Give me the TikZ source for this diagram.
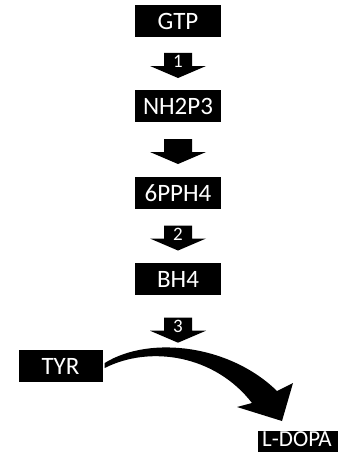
\documentclass[tikz,border=0pt]{standalone}
\usepackage{fontspec}
\setmainfont{Carlito}
\usetikzlibrary{calc}
\begin{document}
\begin{tikzpicture}[x=1pt,y=-1pt]
\tikzset{
  box/.style={fill=black, text=white, minimum width=86pt, minimum height=32pt,
    inner sep=0pt, font=\fontsize{25}{25}\selectfont},
  steplabel/.style={text=white, inner sep=0pt, font=\fontsize{19}{19}\selectfont},
  blockarrow/.style={fill=black}
}
\useasboundingbox (0,0) rectangle (338,452);

% metabolite boxes
\node[box] (gtp) at (178,21) {GTP};
\node[box] (nh)  at (178,106) {NH2P3};
\node[box] (pp)  at (178,193) {6PPH4};
\node[box] (bh)  at (178,279) {BH4};
\node[box, minimum width=84pt] (tyr) at (60.5,366) {TYR};
% product box runs off the lower right corner
\fill (258,431) rectangle (338,452);
\node[text=white, inner sep=0pt, anchor=base,
  font=\fontsize{23}{23}\selectfont] (ldopa) at (297,446) {L-DOPA};

% downward block arrows between consecutive boxes
\newcommand\stepdown[3]{%
  \coordinate (#3) at ($(#1.south)!0.5!(#2.north)+(0,2)$);
  \fill[blockarrow, shift={(#3)}]
    (-14,-12.5) -- (14,-12.5) -- (14,0.5) -- (28,0.5) -- (0,12.5)
    -- (-28,0.5) -- (-14,0.5) -- cycle;}

\stepdown{gtp}{nh}{a1}
\stepdown{nh}{pp}{a2}
\stepdown{pp}{bh}{a3}
\coordinate (a4) at ($(bh.south)+(0,35)$);
\fill[blockarrow, shift={(a4)}]
  (-14,-12.5) -- (14,-12.5) -- (14,0.5) -- (28,0.5) -- (0,12.5)
  -- (-28,0.5) -- (-14,0.5) -- cycle;

% enzyme step numbers
\node[steplabel] at ($(a1)+(0,-4)$) {1};
\node[steplabel] at ($(a3)+(0,-4)$) {2};
\node[steplabel] at ($(a4)+(0,-4)$) {3};

% curved block arrow from TYR to L-DOPA
\coordinate (tail) at ($(tyr.east)+(2,0)$);
\fill[blockarrow]
  ($(tail)+(0,-3)$) .. controls (150,335) and (230,345) .. (277,391)
  -- (293,383) -- (282,421) -- (237,407) -- (252,403)
  .. controls (215,355) and (150,345) .. ($(tail)+(0,2)$) -- cycle;
\end{tikzpicture}
\end{document}
